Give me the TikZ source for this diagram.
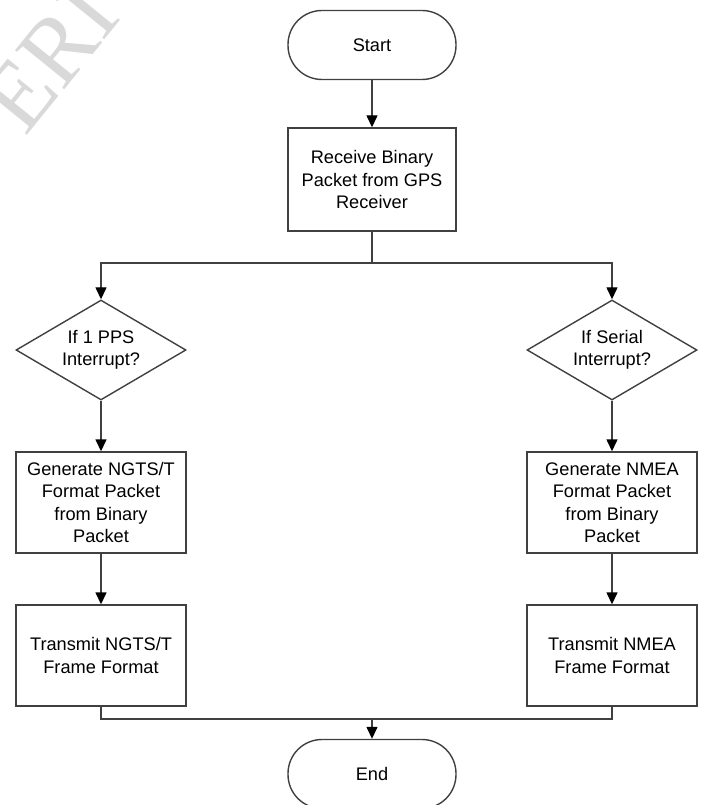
\documentclass[tikz,border=0pt]{standalone}
\usepackage{fontspec}
\setmainfont{Liberation Sans}
\newfontfamily\wmfont{Liberation Serif}
\usepackage{tikz}
\usetikzlibrary{shapes.geometric,arrows.meta}

\tikzset{
	every picture/.style={x=1pt,y=1pt},
	flowline/.style={draw=black!75,line width=1.4pt},
	>={Triangle[length=12pt,width=11pt,color=black]},
	terminal/.style={flowline,rectangle,rounded corners=34pt,minimum width=168pt,minimum height=69pt,align=center,inner sep=2pt},
	process/.style={flowline,rectangle,minimum width=170pt,minimum height=101pt,align=center,inner sep=2pt},
	decision/.style={flowline,diamond,minimum width=170pt,minimum height=100pt,aspect=1.7,align=center,inner sep=0pt},
	every node/.style={font=\fontsize{18.2}{22.5}\selectfont}
}

\begin{document}
\begin{tikzpicture}
	\useasboundingbox (0,0) rectangle (702,-805);
	% watermark
	\node[rotate=51,text=black!15,inner sep=0pt,font=\wmfont\fontsize{96}{96}\selectfont] (mark) at (50,-58) {ERI};

	\node[terminal] (start) at (372,-45) {Start};
	\node[process,minimum width=168pt,minimum height=103pt] (recv) at (372,-179.5) {Receive Binary\\Packet from GPS\\Receiver};
	\coordinate (fork) at (372,-263);

	\node[decision] (ppsq) at (101,-350) {If 1 PPS\\Interrupt?};
	\node[decision] (serq) at (612,-350) {If Serial\\Interrupt?};

	\node[process] (genngts) at (101,-502.5) {Generate NGTS/T\\Format Packet\\from Binary\\Packet};
	\node[process] (gennmea) at (612,-502.5) {Generate NMEA\\Format Packet\\from Binary\\Packet};

	\node[process] (txngts) at (101,-655.5) {Transmit NGTS/T\\Frame Format};
	\node[process] (txnmea) at (612,-655.5) {Transmit NMEA\\Frame Format};

	\coordinate (join) at (372,-719);
	\node[terminal] (stop) at (372,-774) {End};

	\draw[flowline,->] (start) -- (recv);
	\draw[flowline] (recv) -- (fork);
	\draw[flowline,->] (fork) -| (ppsq);
	\draw[flowline,->] (fork) -| (serq);
	\draw[flowline,->] (ppsq) -- (genngts);
	\draw[flowline,->] (serq) -- (gennmea);
	\draw[flowline,->] (genngts) -- (txngts);
	\draw[flowline,->] (gennmea) -- (txnmea);
	\draw[flowline] (txngts) |- (join);
	\draw[flowline] (txnmea) |- (join);
	\draw[flowline,->] (join) -- (stop);
\end{tikzpicture}
\end{document}
